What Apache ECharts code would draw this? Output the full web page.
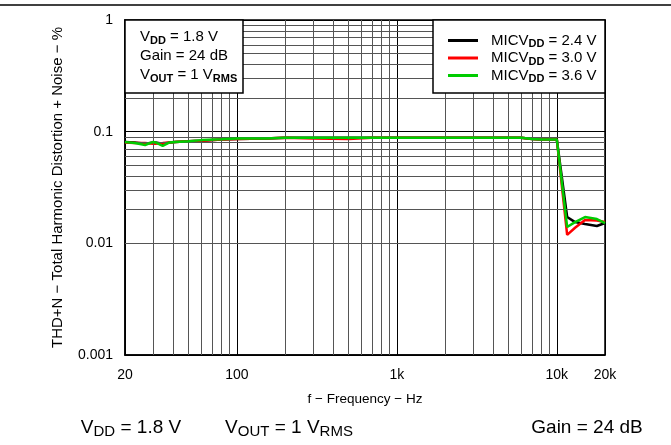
<!DOCTYPE html>
<html>
<head>
<meta charset="utf-8">
<script src="https://cdn.jsdelivr.net/npm/echarts@6/dist/echarts.min.js"></script>
<style>
  html, body { margin: 0; padding: 0; background: #fff; }
  #chart { width: 671px; height: 445px; }
</style>
</head>
<body>
<div id="chart"></div>
<script>
// 频率点 (Hz)
const freq = [20, 23, 26.7, 30, 31, 34.4, 38, 41, 50, 60, 80, 100, 150, 200, 300, 500, 700, 1000,
  1500, 2000, 3000, 5000, 6000, 7000, 8000, 9000, 10000, 11600, 13000, 15000, 17800, 20000];
// THD+N (%)
const thdMic24 = [0.081, 0.080, 0.078, 0.080, 0.080, 0.078, 0.080, 0.081, 0.082, 0.083, 0.085, 0.086, 0.087, 0.088, 0.088, 0.088, 0.088, 0.088,
  0.088, 0.088, 0.088, 0.088, 0.088, 0.086, 0.085, 0.085, 0.085, 0.0172, 0.0155, 0.0149, 0.0143, 0.0152];
const thdMic30 = [0.080, 0.079, 0.079, 0.078, 0.078, 0.079, 0.080, 0.081, 0.082, 0.083, 0.085, 0.086, 0.087, 0.088, 0.087, 0.086, 0.088, 0.088,
  0.088, 0.088, 0.088, 0.088, 0.088, 0.086, 0.085, 0.085, 0.085, 0.0119, 0.0138, 0.0162, 0.0160, 0.0155];
const thdMic36 = [0.081, 0.079, 0.076, 0.081, 0.080, 0.0745, 0.080, 0.081, 0.082, 0.084, 0.0855, 0.087, 0.087, 0.088, 0.088, 0.088, 0.088, 0.088,
  0.088, 0.088, 0.088, 0.088, 0.088, 0.086, 0.085, 0.085, 0.085, 0.0140, 0.0155, 0.0172, 0.0165, 0.0152];
const seriesNames = ['MICVDD = 2.4 V', 'MICVDD = 3.0 V', 'MICVDD = 3.6 V'];
const seriesColors = ['#000000', '#ff0000', '#00cc00'];

// 次网格线
const minorX = [30, 40, 50, 60, 70, 80, 90, 200, 300, 400, 500, 600, 700, 800, 900,
  2000, 3000, 4000, 5000, 6000, 7000, 8000, 9000];
const minorY = [0.002, 0.003, 0.004, 0.005, 0.006, 0.007, 0.008, 0.009,
  0.02, 0.03, 0.04, 0.05, 0.06, 0.07, 0.08, 0.09,
  0.2, 0.3, 0.4, 0.5, 0.6, 0.7, 0.8, 0.9];

const FONT = '"Liberation Sans", Arial, sans-serif';

const boxRich = {
  n: { fontSize: 15, fontFamily: FONT, color: '#000', lineHeight: 18 },
  s: { fontSize: 11, fontFamily: FONT, fontWeight: 'bold', color: '#000', lineHeight: 11, verticalAlign: 'bottom' }
};
const footRich = {
  n: { fontSize: 19, fontFamily: FONT, color: '#000', lineHeight: 22 },
  s: { fontSize: 15, fontFamily: FONT, color: '#000', lineHeight: 14, verticalAlign: 'bottom' }
};

const chart = echarts.init(document.getElementById('chart'), null, { renderer: 'canvas' });

const lineSeries = [thdMic24, thdMic30, thdMic36].map((vals, i) => ({
  name: seriesNames[i],
  type: 'line',
  data: freq.map((f, j) => [f, vals[j]]),
  showSymbol: false,
  lineStyle: { color: seriesColors[i], width: 2.5 },
  itemStyle: { color: seriesColors[i] },
  z: 3 + i,
  animation: false
}));

const gridSeries = {
  type: 'line',
  data: [],
  z: 1,
  silent: true,
  markLine: {
    silent: true,
    symbol: 'none',
    animation: false,
    label: { show: false },
    lineStyle: { color: '#555', width: 1, type: 'solid' },
    data: minorX.map(v => ({ xAxis: v })).concat(minorY.map(v => ({ yAxis: v })))
  }
};

const textEl = (x, y, text, rich, align) => ({
  type: 'text',
  x, y,
  z: 101,
  style: { text, rich, align: align || 'left', verticalAlign: 'middle' }
});

chart.setOption({
  backgroundColor: '#fff',
  animation: false,
  grid: { left: 125, right: 66, top: 20, bottom: 90, show: true, borderColor: '#000', borderWidth: 1.5 },
  xAxis: {
    type: 'log',
    logBase: 10,
    min: 20,
    max: 20000,
    name: 'f − Frequency − Hz',
    nameLocation: 'middle',
    nameGap: 37,
    nameTextStyle: { fontSize: 13.5, fontFamily: FONT, color: '#000' },
    axisLine: { lineStyle: { color: '#000', width: 1.5 } },
    axisTick: { show: false },
    axisLabel: {
      margin: 13, fontSize: 14, fontFamily: FONT, color: '#000',
      showMinLabel: true, showMaxLabel: true,
      formatter: v => v >= 1000 ? Math.round(v / 1000) + 'k' : String(Math.round(v))
    },
    splitLine: { show: true, lineStyle: { color: '#000', width: 1 } }
  },
  yAxis: {
    type: 'log',
    logBase: 10,
    min: 0.001,
    max: 1,
    name: 'THD+N − Total Harmonic Distortion + Noise − %',
    nameLocation: 'middle',
    nameGap: 60,
    nameTextStyle: { fontSize: 15, fontFamily: FONT, color: '#000' },
    axisLine: { lineStyle: { color: '#000', width: 1.5 } },
    axisTick: { show: false },
    axisLabel: {
      margin: 12, fontSize: 14, fontFamily: FONT, color: '#000',
      formatter: v => String(+v.toPrecision(1))
    },
    splitLine: { show: true, lineStyle: { color: '#000', width: 1 } }
  },
  legend: {
    data: seriesNames,
    orient: 'vertical',
    left: 443,
    top: 28,
    itemWidth: 30,
    itemHeight: 3,
    itemGap: 1,
    icon: 'rect',
    z: 110,
    selectedMode: false,
    formatter: name => '{n|' + name.replace('DD', '}{s|DD}{n|') + '}',
    textStyle: { padding: [0, 0, 0, 8], rich: boxRich }
  },
  graphic: [
    { type: 'line', z: 100, shape: { x1: 0, y1: 5, x2: 671, y2: 5 }, style: { stroke: '#000', lineWidth: 1.5 } },
    { type: 'rect', z: 100, shape: { x: 125, y: 20, width: 118, height: 73 }, style: { fill: '#fff', stroke: '#000', lineWidth: 1.5 } },
    { type: 'rect', z: 100, shape: { x: 433, y: 20, width: 172, height: 73 }, style: { fill: '#fff', stroke: '#000', lineWidth: 1.5 } },
    textEl(140, 37, '{n|V}{s|DD}{n| = 1.8 V}', boxRich),
    textEl(140, 56, '{n|Gain = 24 dB}', boxRich),
    textEl(140, 75, '{n|V}{s|OUT}{n| = 1 V}{s|RMS}', boxRich),
    textEl(131, 428, '{n|V}{s|DD}{n| = 1.8 V}', footRich, 'center'),
    textEl(289, 428, '{n|V}{s|OUT}{n| = 1 V}{s|RMS}', footRich, 'center'),
    textEl(587, 428, '{n|Gain = 24 dB}', footRich, 'center')
  ],
  series: [gridSeries].concat(lineSeries)
});
</script>
</body>
</html>
